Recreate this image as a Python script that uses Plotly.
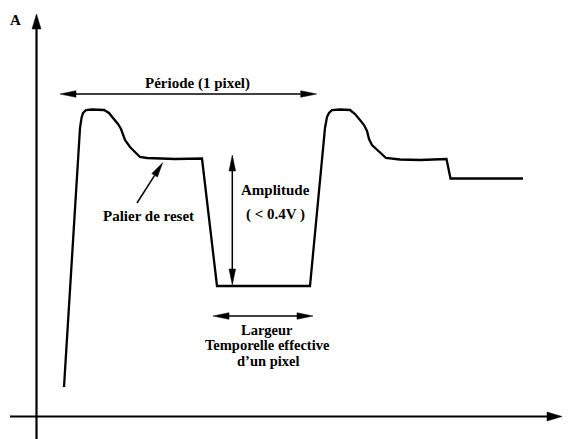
import numpy as np
import plotly.graph_objects as go

# Waveform (time, amplitude) in schematic units; origin at axis crossing
wave_t = [27.5, 43.5, 45, 46.5, 49.5, 55.5, 67.5, 72.5, 76.5, 81.5, 84.5, 86.5, 88.5,
          93.5, 98.5, 103.5, 110.5, 138.5, 165.5, 180.5, 273.5, 288.5, 290.5, 292.5,
          295.5, 303.5, 313.5, 318.5, 323.5, 327.5, 330.5, 332.5, 335.5, 340.5, 345.5,
          349.5, 363.5, 383.5, 410, 414, 486.5]
wave_a = [29.5, 288.5, 298.5, 303.5, 306.5, 307, 306.5, 303.5, 298.5, 292.5, 287.5, 281.5,
          276.5, 269.5, 264.5, 259.5, 258.5, 257.5, 258, 130.5, 130.5, 288.5, 299.5, 303.5,
          306.5, 307, 306.5, 302.5, 296.5, 291.5, 285.5, 277.5, 271.5, 266.5, 261.5,
          258.5, 257, 256.5, 257.5, 238, 238]

# Annotation arrows
periode_arrow = [(23.5, 322.5), (280.2, 322.5)]
amplitude_arrow = [(195.8, 261.5), (195.8, 131.5)]
largeur_arrow = [(176.5, 100.5), (276.5, 100.5)]
palier_arrow = [(100.5, 213.5), (126.2, 253.8)]

# Text labels
labels = [
    ("A", -21.5, 396.5, 15),
    ("Période (1 pixel)", 160.5, 333.5, 15),
    ("Amplitude", 238.5, 226.5, 15),
    ("( < 0.4V )", 238.5, 202.5, 15),
    ("Palier de reset", 111.5, 200.5, 15),
    ("Largeur", 230.5, 87.0, 14.5),
    ("Temporelle effective", 230.5, 71.5, 14.5),
    ("d\u2019un pixel", 231.5, 56.0, 14.5),
]

X_AXIS = [(-26.5, 0), (525.5, 0)]
Y_AXIS = [(0, -22.5), (0, 402.5)]

fig = go.Figure()


def head(tip, frm, length, half):
    tip = np.array(tip, float)
    frm = np.array(frm, float)
    d = tip - frm
    d /= np.linalg.norm(d)
    n = np.array([-d[1], d[0]])
    base = tip - d * length
    p1 = base + n * half
    p2 = base - n * half
    xs = [tip[0], p1[0], p2[0], tip[0]]
    ys = [tip[1], p1[1], p2[1], tip[1]]
    fig.add_trace(go.Scatter(x=xs, y=ys, mode="lines", fill="toself",
                             fillcolor="black", line=dict(color="black", width=0.5),
                             hoverinfo="skip", showlegend=False))
    return base


def seg(p, q, w):
    fig.add_trace(go.Scatter(x=[p[0], q[0]], y=[p[1], q[1]], mode="lines",
                             line=dict(color="black", width=w),
                             hoverinfo="skip", showlegend=False))


# Axes
b = head(X_AXIS[1], X_AXIS[0], 15, 4.5)
seg(X_AXIS[0], b, 2.2)
b = head(Y_AXIS[1], Y_AXIS[0], 15, 4.5)
seg(Y_AXIS[0], b, 2.2)

# Waveform
fig.add_trace(go.Scatter(x=wave_t, y=wave_a, mode="lines",
                         line=dict(color="black", width=2.3),
                         hoverinfo="skip", showlegend=False))

# Double-headed arrows
for p, q in [periode_arrow, amplitude_arrow, largeur_arrow]:
    b1 = head(p, q, 16, 3.3)
    b2 = head(q, p, 16, 3.3)
    seg(b1, b2, 1.5)

# Single arrow
p, q = palier_arrow
b = head(q, p, 15, 3.3)
seg(p, b, 1.5)

for txt, x, y, sz in labels:
    fig.add_annotation(x=x, y=y, text="<b>%s</b>" % txt, showarrow=False,
                       xanchor="center", yanchor="middle", borderpad=0,
                       font=dict(family="Liberation Serif", size=sz, color="black"))

fig.update_layout(
    width=576, height=439,
    margin=dict(l=0, r=0, t=0, b=0),
    paper_bgcolor="white", plot_bgcolor="white",
    xaxis=dict(range=[-36.5, 539.5], visible=False, fixedrange=True),
    yaxis=dict(range=[-22.5, 416.5], visible=False, fixedrange=True),
    showlegend=False,
)

fig.write_html("out.html", config={"displayModeBar": False},
               post_script="document.body.style.margin='0';document.body.style.overflow='hidden';")
